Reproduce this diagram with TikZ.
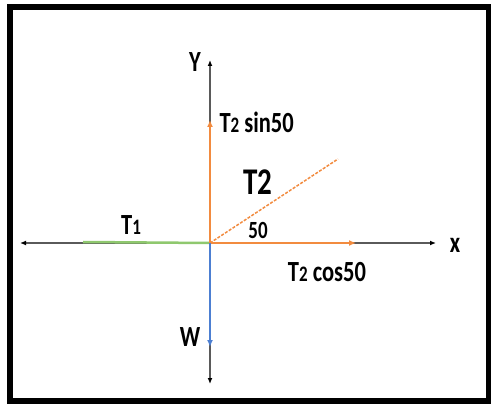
\documentclass[tikz,border=0pt]{standalone}
\usepackage{fontspec}
\setmainfont{Carlito}
\usepackage{graphicx}
\usepackage{tikz}
\usetikzlibrary{arrows.meta}
\definecolor{tens}{HTML}{F28B3F}
\definecolor{wgt}{HTML}{4C7FD2}
\definecolor{fric}{HTML}{8FC86E}
\definecolor{axis}{HTML}{5A5A5A}
\newcommand{\idx}[1]{{\fontsize{17}{17}\selectfont #1}}
\newcommand{\tl}[1]{\scalebox{1}[1.3]{#1}}

\begin{document}
\begin{tikzpicture}[x=1pt,y=-1pt,
    lbl/.style={font=\fontsize{22.5}{25}\selectfont\bfseries},
    axtip/.style={{Latex[length=6pt,width=5pt,color=black]}-{Latex[length=6pt,width=5pt,color=black]}},
    vtip/.style={-{Latex[length=7pt,width=6pt]}}]
  \useasboundingbox (0,0) rectangle (491,404);
  \draw[line width=6pt] (10,7.5) rectangle (489,400.5);
  % axes
  \coordinate (O) at (210,243);
  \coordinate (xl) at (20,243);
  \coordinate (xr) at (436,243);
  \coordinate (yt) at (210,60);
  \coordinate (yb) at (210,384);
  \draw[axtip,axis,line width=1.5pt] (xl) -- (xr);
  \draw[axtip,axis,line width=1.5pt] (yb) -- (yt);
  \node[lbl] (xlab) at (455,245) {\tl{x}};
  \node[lbl] (ylab) at (195,62) {\tl{Y}};
  % forces
  \coordinate (t1end) at (83,242);
  \coordinate (t2end) at (338,159);
  \coordinate (cosend) at (356,243);
  \coordinate (sinend) at (210,120);
  \coordinate (wend) at (210,347);
  \draw[fric,line width=2.5pt] (O) -- (t1end);
  \draw[tens,line width=1.5pt,dashed,dash pattern=on 3pt off 1.5pt] (O) -- (t2end);
  \draw[vtip,tens,line width=2.2pt] (O) -- (cosend);
  \draw[vtip,tens,line width=2.2pt] (O) -- (sinend);
  \draw[vtip,wgt,line width=2.2pt] (O) -- (wend);
  % labels
  \node[lbl] (t1lab) at (131,225) {\tl{T\idx{1}}};
  \node[font=\fontsize{29}{31}\selectfont\bfseries] (t2lab) at (258,182) {\tl{T2}};
  \node[lbl,font=\fontsize{19}{22}\selectfont\bfseries] (anglab) at (258,230) {\tl{50}};
  \node[lbl,anchor=west] (sinlab) at (216,122) {\tl{T\idx{2} sin50}};
  \node[lbl] (coslab) at (327,272) {\tl{T\idx{2} cos50}};
  \node[lbl] (wlab) at (190,337) {\tl{W}};
\end{tikzpicture}
\end{document}
